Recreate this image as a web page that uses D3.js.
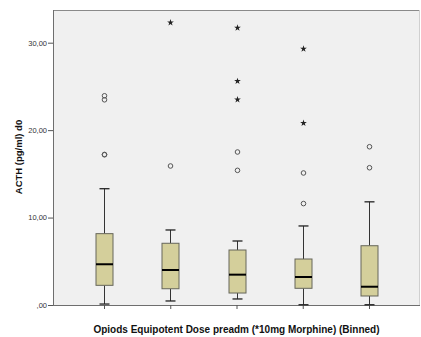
<!DOCTYPE html>
<html>
<head>
<meta charset="utf-8">
<script src="https://cdn.jsdelivr.net/npm/d3@7"></script>
<style>
  html, body { margin: 0; padding: 0; background: #fff; }
  svg { display: block; }
</style>
</head>
<body>
<svg id="chart" width="421" height="337"></svg>
<script>
// Dose bins (SPSS leaves the bin labels empty)
const bins = ["1", "2", "3", "4", "5"];

// Box statistics per bin: whisker low, Q1, median, Q3, whisker high
const whiskerLow  = [0.11, 0.46, 0.69, 0.03, 0.03];
const q1          = [2.25, 1.86, 1.37, 1.91, 1.03];
const medians     = [4.66, 4.00, 3.47, 3.20, 2.09];
const q3          = [8.16, 7.06, 6.29, 5.26, 6.78];
const whiskerHigh = [13.3, 8.58, 7.32, 9.04, 11.8];

// Outliers (circles) and extreme values (stars) per bin
const outliers = [
  [23.93, 23.47, 17.18, 17.22],
  [15.9],
  [17.5, 15.4],
  [15.1, 11.6],
  [18.1, 15.7]
];
const extremes = [
  [],
  [32.3],
  [31.7, 25.6, 23.5],
  [29.3, 20.8],
  []
];

const yTicks = [0, 10, 20, 30];
const yTickLabels = [",00", "10,00", "20,00", "30,00"];

const svg = d3.select("#chart");
const plotLeft = 53, plotRight = 420, plotTop = 10, plotBottom = 305;

const x = d3.scalePoint().domain(bins).range([plotLeft, plotRight]).padding(0.77);
const y = d3.scaleLinear().domain([0, 33.74]).range([plotBottom, plotTop]);

// Plot background
svg.append("rect")
  .attr("x", plotLeft).attr("y", plotTop)
  .attr("width", plotRight - plotLeft).attr("height", plotBottom - plotTop)
  .attr("fill", "#f0f0f0");

// Frame lines: top darker, right light
svg.append("line").attr("x1", plotLeft).attr("x2", plotRight).attr("y1", plotTop + 0.5).attr("y2", plotTop + 0.5)
  .attr("stroke", "#8a8a8a").attr("stroke-width", 1.2);
svg.append("line").attr("x1", plotRight - 0.5).attr("x2", plotRight - 0.5).attr("y1", plotTop).attr("y2", plotBottom)
  .attr("stroke", "#d0d0d0");

// Y axis
const yAxis = svg.append("g")
  .attr("transform", `translate(${plotLeft},0)`)
  .call(d3.axisLeft(y).tickValues(yTicks).tickSize(5).tickPadding(1)
    .tickFormat((d, i) => yTickLabels[i]));
yAxis.select(".domain").attr("stroke", "#6e6e6e").attr("d", `M0.5,${plotTop}V${plotBottom}`);
yAxis.selectAll(".tick line").attr("stroke", "#555");
yAxis.selectAll(".tick text")
  .attr("font-family", "Arial, 'Liberation Sans', sans-serif")
  .attr("font-size", 7.5).attr("fill", "#333");

// X axis
const xAxis = svg.append("g")
  .attr("transform", `translate(0,${plotBottom})`)
  .call(d3.axisBottom(x).tickSize(4).tickFormat(""));
xAxis.select(".domain").attr("stroke", "#6e6e6e").attr("stroke-width", 1.2).attr("d", `M${plotLeft},0.5H${plotRight}`);
xAxis.selectAll(".tick line").attr("stroke", "#555");

// Boxes
const boxW = 17, capW = 10;
const g = svg.append("g");
bins.forEach((b, i) => {
  const cx = Math.round(x(b)) + 0.5;
  // whiskers
  g.append("line").attr("x1", cx).attr("x2", cx).attr("y1", y(q3[i])).attr("y2", y(whiskerHigh[i]))
    .attr("stroke", "#333").attr("stroke-width", 1);
  g.append("line").attr("x1", cx).attr("x2", cx).attr("y1", y(q1[i])).attr("y2", y(whiskerLow[i]))
    .attr("stroke", "#333").attr("stroke-width", 1);
  // caps
  [whiskerHigh[i], whiskerLow[i]].forEach(v => {
    g.append("line").attr("x1", cx - capW / 2).attr("x2", cx + capW / 2).attr("y1", y(v)).attr("y2", y(v))
      .attr("stroke", "#222").attr("stroke-width", 1.3);
  });
  // box
  g.append("rect")
    .attr("x", cx - boxW / 2).attr("y", y(q3[i]))
    .attr("width", boxW).attr("height", y(q1[i]) - y(q3[i]))
    .attr("fill", "#d4cf9b").attr("stroke", "#66665a").attr("stroke-width", 1);
  // median
  g.append("line").attr("x1", cx - boxW / 2).attr("x2", cx + boxW / 2)
    .attr("y1", y(medians[i])).attr("y2", y(medians[i]))
    .attr("stroke", "#000").attr("stroke-width", 2);
  // outliers
  outliers[i].forEach(v => {
    g.append("circle").attr("cx", cx).attr("cy", y(v)).attr("r", 2.3)
      .attr("fill", "none").attr("stroke", "#555").attr("stroke-width", 1);
  });
  // extreme values
  extremes[i].forEach(v => {
    g.append("path")
      .attr("d", d3.symbol().type(d3.symbolStar).size(14)())
      .attr("transform", `translate(${cx},${y(v)})`)
      .attr("fill", "#222");
  });
});

// Axis titles
svg.append("text")
  .attr("x", (plotLeft + plotRight) / 2).attr("y", 333)
  .attr("text-anchor", "middle")
  .attr("font-family", "Arial, 'Liberation Sans', sans-serif")
  .attr("font-weight", "bold").attr("font-size", 10).attr("fill", "#111")
  .text("Opiods Equipotent Dose preadm (*10mg Morphine) (Binned)");

svg.append("text")
  .attr("transform", `translate(22,157) rotate(-90)`)
  .attr("text-anchor", "middle")
  .attr("font-family", "Arial, 'Liberation Sans', sans-serif")
  .attr("font-weight", "bold").attr("font-size", 9.5).attr("fill", "#111")
  .text("ACTH (pg/ml) d0");
</script>
</body>
</html>
